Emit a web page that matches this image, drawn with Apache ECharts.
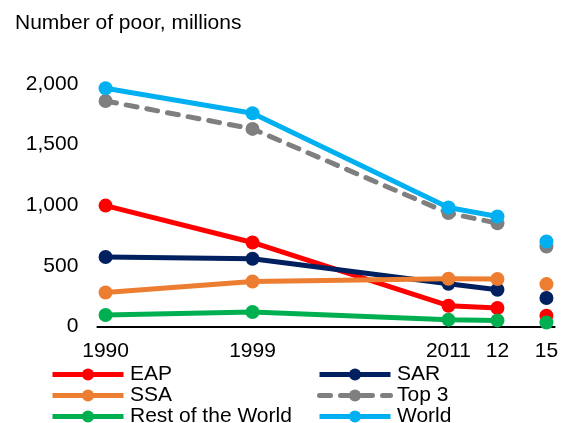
<!DOCTYPE html>
<html><head><meta charset="utf-8">
<script src="https://cdn.jsdelivr.net/npm/echarts@6/dist/echarts.min.js"></script>
<style>html,body{margin:0;padding:0;background:#fff}#c{width:561px;height:423px}</style>
</head><body><div id="c"></div>
<script>
// x-axis slots (blank slots keep the original uneven spacing)
const categories = ['1990','','','','','','','','','1999','','','','','','','','','','','','2011','','','12','','','15'];
const years = ['1990','1999','2011','12','15'];   // last one is the projection (unconnected)
const eap   = [998, 694, 173, 154, 90];
const sar   = [574, 560, 354, 305, 236];
const ssa   = [282, 373, 395, 393, 351];
const top3  = [1860, 1630, 936, 853, 661];
const rest  = [96, 121, 58, 52, 35];
const world = [1965, 1759, 982, 908, 702];
const seriesNames = ['EAP', 'SAR', 'SSA', 'Top 3', 'Rest of the World', 'World'];
const seriesValues = [eap, sar, ssa, top3, rest, world];
const colors = ['#FF0000', '#002060', '#ED7D31', '#7F7F7F', '#00B050', '#00B0F0'];

const FONT = '"Liberation Sans", Arial, sans-serif';
const projYear = years[years.length - 1];

const lineSeries = seriesNames.map((name, k) => {
  const vals = seriesValues[k];
  const data = categories.map(c => {
    const i = years.indexOf(c);
    return (c !== '' && i >= 0 && c !== projYear) ? vals[i] : null;
  });
  const dashed = name === 'Top 3';
  return {
    name, type: 'line', data, connectNulls: true,
    symbol: 'circle', symbolSize: 14, showAllSymbol: true,
    itemStyle: { color: colors[k], opacity: 1 },
    lineStyle: { color: colors[k], width: 5, type: dashed ? [11, 10] : 'solid', cap: dashed ? 'round' : 'butt', join: 'round' },
    emphasis: { disabled: true }, animation: false, z: 2 + k
  };
});
const projSeries = seriesNames.map((name, k) => ({
  name: name + ' (' + projYear + ')', type: 'scatter',
  data: [[projYear, seriesValues[k][years.length - 1]]],
  symbol: 'circle', symbolSize: 14,
  itemStyle: { color: colors[k], opacity: 1 },
  emphasis: { disabled: true }, animation: false, z: 2 + k
}));

const legendCommon = {
  orient: 'vertical', top: 364, height: 120, itemWidth: 71, itemHeight: 15, itemGap: 0,
  padding: 0,
  textStyle: { fontFamily: FONT, fontSize: 21, color: '#000', lineHeight: 20.5, padding: [0, 0, 0, 1.5] },
  lineStyle: { width: 5 }, selectedMode: false
};

const chart = echarts.init(document.getElementById('c'), null, { renderer: 'canvas' });
chart.setOption({
  backgroundColor: '#fff',
  animation: false,
  title: { text: 'Number of poor, millions', left: 10, top: 8,
    textStyle: { fontFamily: FONT, fontSize: 21, fontWeight: 'normal', color: '#000' } },
  legend: [
    Object.assign({ left: 50, data: ['EAP', 'SSA', 'Rest of the World'] }, legendCommon),
    Object.assign({ left: 317, data: ['SAR', 'Top 3', 'World'] }, legendCommon)
  ],
  grid: { left: 97.4, right: 0, top: 84, bottom: 96.3, containLabel: false },
  xAxis: {
    type: 'category', data: categories, boundaryGap: true,
    axisLine: { lineStyle: { color: '#000', width: 2 } },
    axisTick: { show: false },
    axisLabel: { interval: 0, margin: 14, fontFamily: FONT, fontSize: 21, color: '#000', hideOverlap: false },
    splitLine: { show: false }
  },
  yAxis: {
    type: 'value', min: 0, max: 2000, interval: 500,
    axisLine: { show: false }, axisTick: { show: false }, splitLine: { show: false },
    axisLabel: { margin: 19, fontFamily: FONT, fontSize: 21, color: '#000',
      formatter: v => v.toLocaleString('en-US') }
  },
  series: lineSeries.concat(projSeries)
});
</script>
</body></html>
